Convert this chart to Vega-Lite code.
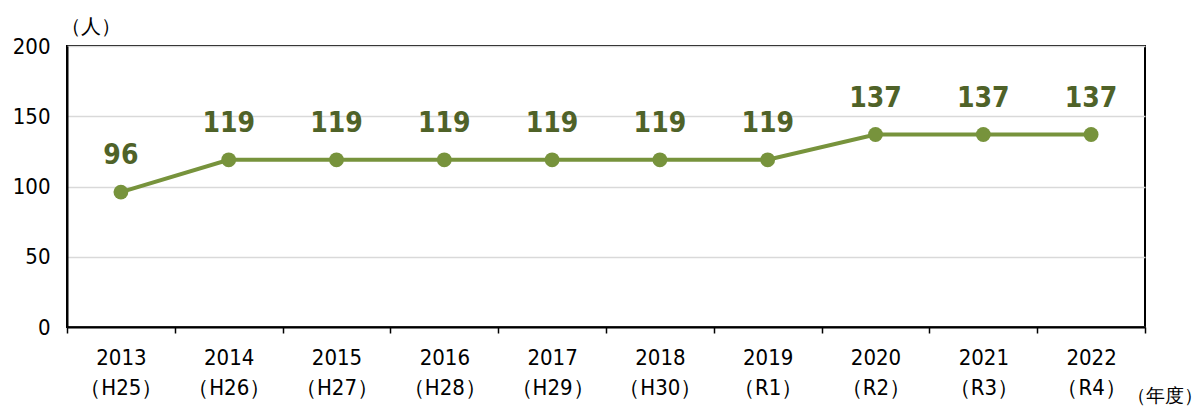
{
  "$schema": "https://vega.github.io/schema/vega-lite/v6.json",
  "width": 1078,
  "height": 281,
  "autosize": {"type": "none"},
  "padding": {"left": 67, "top": 46, "right": 59, "bottom": 79},
  "background": "white",
  "config": {
    "view": {"stroke": "black", "strokeWidth": 2},
    "font": "DejaVu Sans Condensed, Liberation Sans Narrow, sans-serif"
  },
  "data": {
    "values": [
      {"year": "2013|（H25）", "value": 96},
      {"year": "2014|（H26）", "value": 119},
      {"year": "2015|（H27）", "value": 119},
      {"year": "2016|（H28）", "value": 119},
      {"year": "2017|（H29）", "value": 119},
      {"year": "2018|（H30）", "value": 119},
      {"year": "2019|（R1）", "value": 119},
      {"year": "2020|（R2）", "value": 137},
      {"year": "2021|（R3）", "value": 137},
      {"year": "2022|（R4）", "value": 137}
    ]
  },
  "encoding": {
    "x": {
      "field": "year",
      "type": "nominal",
      "sort": null,
      "scale": {"type": "band", "paddingInner": 0, "paddingOuter": 0},
      "axis": {
        "title": "（年度）",
        "titleX": 1135,
        "titleY": 68,
        "titleAlign": "right",
        "titleBaseline": "middle",
        "titleFontSize": 19,
        "titleFontWeight": "normal",
        "titleColor": "black",
        "labelExpr": "split(datum.label, '|')",
        "labelAngle": 0,
        "labelFontSize": 22,
        "labelColor": "black",
        "labelLineHeight": 30,
        "labelPadding": 14,
        "labelBaseline": "top",
        "tickBand": "extent",
        "tickSize": 6,
        "tickColor": "black",
        "tickWidth": 1.5,
        "domainColor": "black",
        "domainWidth": 2,
        "grid": false
      }
    },
    "y": {
      "field": "value",
      "type": "quantitative",
      "scale": {"domain": [0, 200], "nice": false},
      "axis": {
        "values": [0, 50, 100, 150, 200],
        "title": "（人）",
        "titleAngle": 0,
        "titleX": 23,
        "titleY": -20,
        "titleAlign": "center",
        "titleBaseline": "middle",
        "titleFontSize": 20,
        "titleFontWeight": "normal",
        "titleColor": "black",
        "labelFontSize": 22,
        "labelColor": "black",
        "labelPadding": 17,
        "tickSize": 0,
        "domainColor": "black",
        "domainWidth": 2,
        "grid": true,
        "gridColor": "#d9d9d9",
        "gridWidth": 1.5
      }
    }
  },
  "layer": [
    {
      "mark": {"type": "line", "color": "#77933C", "strokeWidth": 4}
    },
    {
      "mark": {"type": "point", "filled": true, "color": "#77933C", "size": 220, "opacity": 1}
    },
    {
      "mark": {"type": "text", "dy": -36, "fontSize": 28, "fontWeight": "bold", "color": "#4F6228", "baseline": "middle"},
      "encoding": {"text": {"field": "value", "type": "quantitative"}}
    }
  ]
}
